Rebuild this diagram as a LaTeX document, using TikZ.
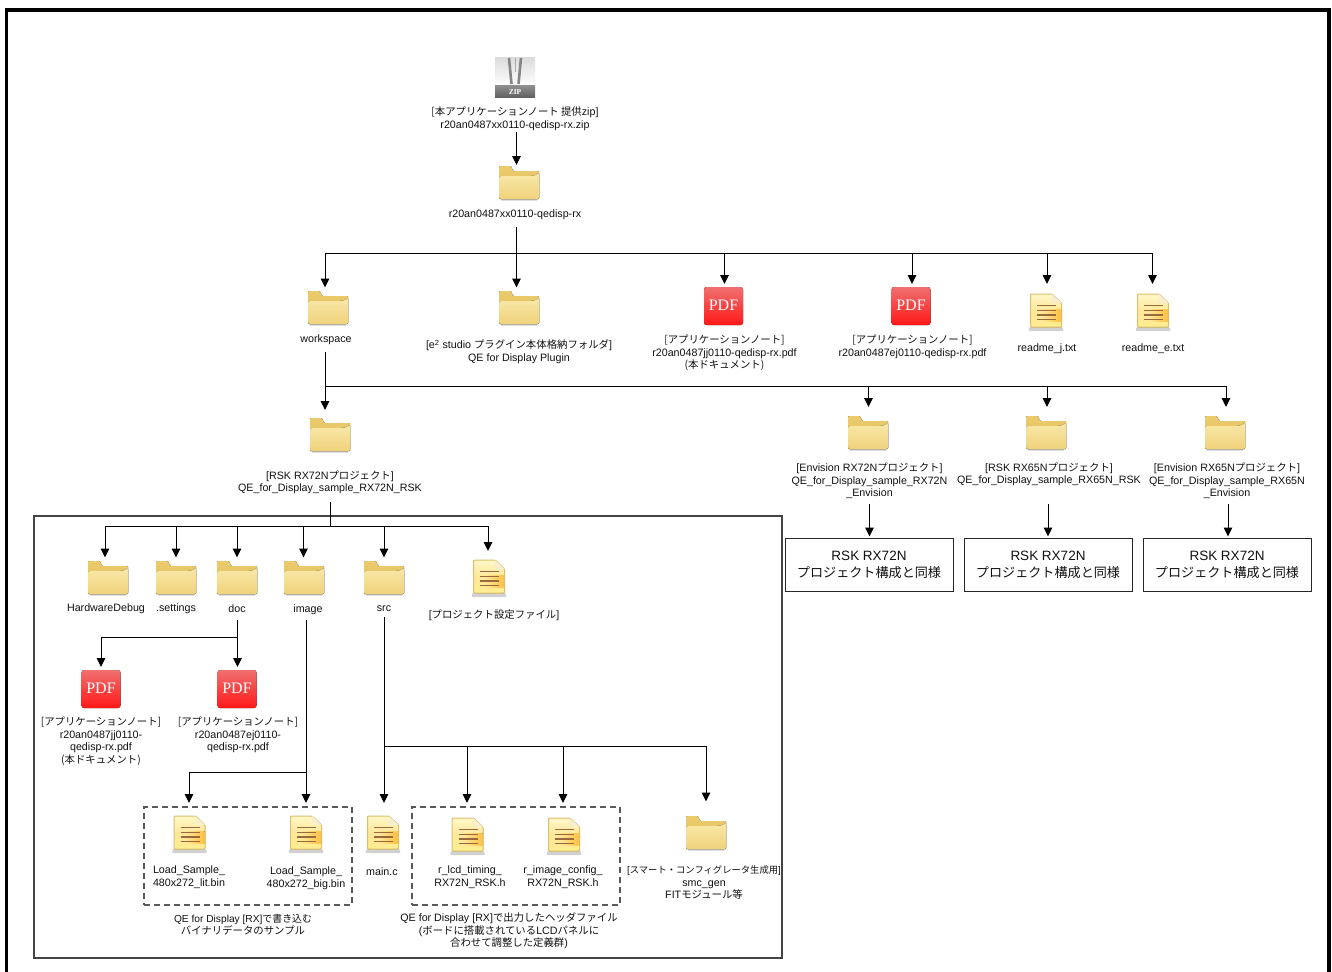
\documentclass[tikz,border=0pt]{standalone}
\usepackage{fontspec}
\setmainfont{Liberation Sans}
\newfontfamily\jpf[Scale=0.97]{Noto Sans CJK JP}
\newfontfamily\pdff{Liberation Serif}
\usetikzlibrary{arrows.meta,calc}
\newcommand\J[1]{{\jpf #1}}
\definecolor{txt}{HTML}{111111}
\definecolor{foldb}{HTML}{EBCB6C}
\definecolor{foldc}{HTML}{E2BE5C}
\definecolor{foldt}{HTML}{F8E8A8}
\definecolor{foldu}{HTML}{F0D27C}
\definecolor{docedge}{HTML}{DDBE6C}
\definecolor{docy1}{HTML}{FFF8C8}
\definecolor{docy2}{HTML}{FFEE90}
\definecolor{docy3}{HTML}{FFE79A}
\definecolor{docor}{HTML}{FFC040}
\definecolor{docfold}{HTML}{F6EECF}
\definecolor{docline}{HTML}{9A6A3E}
\definecolor{pdfa}{HTML}{F07070}
\definecolor{pdfb}{HTML}{F23434}
\definecolor{pdfc}{HTML}{FF1818}
\definecolor{zipa}{HTML}{DCDCDC}
\definecolor{zipb}{HTML}{8C8C8C}
\definecolor{zipc}{HTML}{5E5E5E}
\definecolor{zipz}{HTML}{858585}
\definecolor{gframe}{HTML}{444444}
\tikzset{
  x=1pt,y=-1pt,
  line/.style={line width=1pt,black},
  arr/.style={line width=1pt,black,-{Triangle[length=9pt,width=8.5pt]}},
  lab/.style={align=center,inner sep=0pt,text=txt,yshift=-0.8pt,font=\fontsize{10.7}{12.6}\selectfont},
  folderbox/.style={minimum width=40pt,minimum height=35pt,inner sep=0pt,outer sep=3pt},
  docbox/.style={minimum width=34pt,minimum height=38pt,inner sep=0pt,outer sep=3pt},
  pdfbox/.style={minimum width=39pt,minimum height=38pt,inner sep=0pt,outer sep=3pt},
  zipbox/.style={minimum width=40pt,minimum height=40pt,inner sep=0pt},
  same/.style={draw=black!85,line width=1pt,minimum width=168pt,minimum height=53pt,align=center,inner sep=0pt,font=\fontsize{13.5}{17}\selectfont,text=txt},
  folderic/.pic={
    \fill[black!12] (-18,15) rectangle (18,18);
    \fill[rounded corners=1pt,top color=foldb,bottom color=foldc]
      (-20,16) -- (-20,-17) -- (-8,-17) -- (-6,-12) -- (20,-12) -- (20,16) -- cycle;
    \fill[rounded corners=1.5pt,top color=foldt,bottom color=foldu]
      (-20,16) -- (-20,-7) -- (10,-7) .. controls (16,-7) and (18,-9) .. (20,-10) -- (20,16) -- cycle;
  },
  docic/.pic={
    \fill[black!18,rounded corners=2pt] (-16,14) -- (16,14) -- (18,19) -- (-18,19) -- cycle;
    \fill[rounded corners=1pt,top color=docy1,bottom color=docy2,middle color=docy3]
      (-15.5,-18) -- (6,-18) -- (15.5,-9) -- (15.5,15) -- (-15.5,15) -- cycle;
    \fill[left color=docy3,right color=docor] (-4,-3) -- (15,-3) -- (15,9) -- (-4,9) -- cycle;
    \draw[docedge,line width=1pt,rounded corners=1pt]
      (-15.5,-18) -- (6,-18) -- (15.5,-9) -- (15.5,15) -- (-15.5,15) -- cycle;
    \fill[docfold] (6,-18) -- (15.5,-9) -- (6,-9) -- cycle;
    \foreach \yy in {-6.5,-1.5,3,7.5}
      \draw[docline,line width=1.5pt] (-9,\yy) -- (10,\yy);
  },
  pdfic/.pic={
    \fill[rounded corners=2.5pt,top color=pdfa,middle color=pdfb,bottom color=pdfc] (-19.5,-19) rectangle (19.5,19);
    \node[name=t,inner sep=0pt,text=white,font=\pdff\fontsize{16}{16}\selectfont] at (0,-0.5) {PDF};
  },
  zipic/.pic={
    \fill[top color=zipa,bottom color=white] (-20,-20) rectangle (20,8);
    \fill[top color=zipb,bottom color=zipc] (-20,8) rectangle (20,20);
    \draw[zipz,line width=2.6pt] (-6,-20) -- (-3.5,6) (6,-20) -- (3.5,6);
    \draw[zipz!70,line width=0.8pt] (0,-20) -- (0,-6);
    \node[name=t,inner sep=0pt,text=white,font=\pdff\fontsize{7.5}{8}\selectfont\bfseries] at (0,14) {ZIP};
  },
}
\newcommand\Folder[3]{\node[folderbox] (#1) at (#2,#3) {}; \pic at (#1) {folderic};}
\newcommand\Doc[3]{\node[docbox] (#1) at (#2,#3) {}; \pic at (#1) {docic};}
\newcommand\Pdf[3]{\node[pdfbox] (#1) at (#2,#3) {}; \pic at (#1) {pdfic};}
\newcommand\Lab[4]{\node[lab] (#1) at (#2,#3) {#4};}
\newcommand\Arr[2]{\draw[arr] (#1) -- (#1 |- #2.north);}
\newcommand\ArrS[3]{\draw[arr,shorten >=#3pt] (#1) -- (#1 |- #2.north);}
\begin{document}
\begin{tikzpicture}
\useasboundingbox (0,0) rectangle (1332,971);
\fill[white] (0,0) rectangle (1332,971);
\draw[black,line width=3.2pt] (6.5,975) -- (6.5,10) -- (1329,10) -- (1329,975);

% top
\node[zipbox] (zip) at (515,78) {}; \pic at (zip) {zipic};
\Lab{lzip}{515}{118}{\J{[本アプリケーションノート 提供}zip]\\r20an0487xx0110-qedisp-rx.zip}
\Folder{root}{519}{183}
\Lab{lroot}{515}{214}{r20an0487xx0110-qedisp-rx}
\coordinate (z0) at (516.5,132);
\ArrS{z0}{root}{-2.5}

% level 2
\Folder{wsp}{328}{308}
\Lab{lwsp}{326}{339}{workspace}
\Folder{plg}{519}{308}
\Lab{lplg}{519}{351}{[e\textsuperscript{2} studio \J{プラグイン本体格納フォルダ}]\\QE for Display Plugin}
\Pdf{pj}{723.5}{306}
\Lab{lpj}{724.5}{352}{\J{[アプリケーションノート]}\\r20an0487jj0110-qedisp-rx.pdf\\\J{(本ドキュメント)}}
\Pdf{pe}{911}{306}
\Lab{lpe}{912.5}{346}{\J{[アプリケーションノート]}\\r20an0487ej0110-qedisp-rx.pdf}
\Doc{rj}{1046}{312}
\Lab{lrj}{1047}{348}{readme\_j.txt}
\Doc{re}{1153}{312}
\Lab{lre}{1153}{348}{readme\_e.txt}

\coordinate (t0) at (516.5,227);
\coordinate (t1) at (325,253);
\coordinate (t2) at (516.5,253);
\coordinate (t3) at (724.5,253);
\coordinate (t4) at (912,253);
\coordinate (t5) at (1047,253);
\coordinate (t6) at (1152.5,253);
\draw[line] (t0) -- (t2);
\draw[line] (t1) -- (t6);
\Arr{t1}{wsp}\Arr{t2}{plg}\Arr{t3}{pj}\Arr{t4}{pe}\ArrS{t5}{rj}{6}\ArrS{t6}{re}{6}

% level 3
\Folder{rsk}{330}{435}
\Lab{lrsk}{330}{481.5}{[RSK RX72N\J{プロジェクト}]\\QE\_for\_Display\_sample\_RX72N\_RSK}
\Folder{env}{868}{433}
\Lab{lenv}{869.5}{480}{[Envision RX72N\J{プロジェクト}]\\QE\_for\_Display\_sample\_RX72N\\\_Envision}
\Folder{r65}{1046}{433}
\Lab{lr65}{1049}{473.5}{[RSK RX65N\J{プロジェクト}]\\QE\_for\_Display\_sample\_RX65N\_RSK}
\Folder{e65}{1225}{433}
\Lab{le65}{1227}{480}{[Envision RX65N\J{プロジェクト}]\\QE\_for\_Display\_sample\_RX65N\\\_Envision}
\coordinate (w0) at (325,352);
\coordinate (w1) at (325,386);
\coordinate (w2) at (868.5,386);
\coordinate (w3) at (1047,386);
\coordinate (w4) at (1226,386);
\draw[line] (w1) -- (w4);
\draw[arr,shorten >=4.5pt] (w0) -- (w0 |- rsk.north);
\ArrS{w2}{env}{5.5}\ArrS{w3}{r65}{5.5}\ArrS{w4}{e65}{5.5}

\node[same] (b1) at (869,564.5) {RSK RX72N\\\J{プロジェクト構成と同様}};
\node[same] (b2) at (1048,564.5) {RSK RX72N\\\J{プロジェクト構成と同様}};
\node[same] (b3) at (1227,564.5) {RSK RX72N\\\J{プロジェクト構成と同様}};
\coordinate (a1) at (869.5,504);
\coordinate (a2) at (1048,504);
\coordinate (a3) at (1228,504);
\ArrS{a1}{b1}{1}\ArrS{a2}{b2}{1}\ArrS{a3}{b3}{1}

% big frame
\node[draw=gframe,line width=1.3pt,minimum width=748pt,minimum height=442pt,inner sep=0pt] (frame) at (408,737) {};

% level 4
\Folder{hw}{108}{578}\Lab{lhw}{106}{608}{HardwareDebug}
\Folder{st}{176}{578}\Lab{lst}{176}{608}{.settings}
\Folder{dc}{237}{578}\Lab{ldc}{237}{608}{doc}
\Folder{im}{304}{578}\Lab{lim}{308}{609}{image}
\Folder{sr}{384}{578}\Lab{lsr}{384}{608}{src}
\Doc{pf}{489}{578}\Lab{lpf}{494}{614}{[\J{プロジェクト設定ファイル}]}
\coordinate (f0) at (330,502);
\coordinate (f00) at (330,526);
\coordinate (f1) at (105,526);
\coordinate (f2) at (176,526);
\coordinate (f3) at (237,526);
\coordinate (f4) at (303.5,526);
\coordinate (f5) at (384,526);
\coordinate (f6) at (488,526);
\draw[line] (f0) -- (f00);
\draw[line] (f1) -- (f6);
\Arr{f1}{hw}\Arr{f2}{st}\Arr{f3}{dc}\Arr{f4}{im}\Arr{f5}{sr}\ArrS{f6}{pf}{5}

% doc
\Pdf{dj}{101}{689}
\Lab{ldj}{101}{740.5}{\J{[アプリケーションノート]}\\r20an0487jj0110-\\qedisp-rx.pdf\\\J{(本ドキュメント)}}
\Pdf{de}{237}{689}
\Lab{lde}{238}{734}{\J{[アプリケーションノート]}\\r20an0487ej0110-\\qedisp-rx.pdf}
\coordinate (d0) at (237.5,620);
\coordinate (d1) at (237.5,637);
\coordinate (d2) at (101,637);
\draw[line] (d1) -- (d2);
\draw[arr] (d0) -- (d0 |- de.north);
\Arr{d2}{dj}

% image
\node[draw=black!65,line width=1.1pt,dash pattern=on 6pt off 4pt,minimum width=208pt,minimum height=98pt,inner sep=0pt] (dash1) at (248,856) {};
\node[draw=black!65,line width=1.1pt,dash pattern=on 6pt off 4pt,minimum width=208pt,minimum height=98pt,inner sep=0pt] (dash2) at (516,856) {};
\Doc{bl}{189.5}{834}\Lab{lbl}{189}{876.5}{Load\_Sample\_\\480x272\_lit.bin}
\Doc{bb}{306}{834}\Lab{lbb}{306}{877.5}{Load\_Sample\_\\480x272\_big.bin}
\Doc{mc}{383}{834}\Lab{lmc}{382}{871}{main.c}
\Doc{hl}{467.5}{836}\Lab{lhl}{470}{876.5}{r\_lcd\_timing\_\\RX72N\_RSK.h}
\Doc{hi}{564}{836}\Lab{lhi}{563}{876.5}{r\_image\_config\_\\RX72N\_RSK.h}
\Folder{sm}{706}{833}
\Lab{lsm}{704}{882}{{\fontsize{9.6}{12.6}\selectfont[\J{スマート・コンフィグレータ生成用}]}\\smc\_gen\\FIT\J{モジュール等}}
\Lab{cap1}{243}{924}{{\fontsize{10.2}{12.6}\selectfont QE for Display [RX]\J{で書き込む}}\\\J{バイナリデータのサンプル}}
\Lab{cap2}{509}{930}{QE for Display [RX]\J{で出力したヘッダファイル}\\(\J{ボードに搭載されている}LCD\J{パネルに}\\\J{合わせて調整した定義群})}

\coordinate (i0) at (306,620);
\coordinate (i1) at (306,772);
\coordinate (i2) at (189,772);
\coordinate (i3) at (306,803);
\coordinate (i4) at (189,803);
\draw[line] (i1) -- (i2);
\draw[arr] (i0) -- (i3);
\draw[arr] (i2) -- (i4);

\coordinate (s0) at (384,617);
\coordinate (s1) at (384,746);
\coordinate (s2) at (467,746);
\coordinate (s3) at (563,746);
\coordinate (s4) at (706,746);
\coordinate (s5) at (384,803);
\coordinate (s6) at (467,803);
\coordinate (s7) at (563,803);
\draw[line] (s1) -- (s4);
\draw[arr] (s0) -- (s5);
\draw[arr] (s2) -- (s6);
\draw[arr] (s3) -- (s7);
\ArrS{s4}{sm}{11}
\end{tikzpicture}
\end{document}
